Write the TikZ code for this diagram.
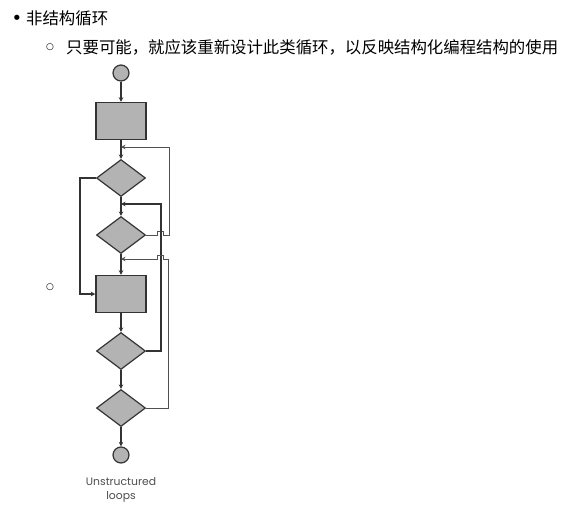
\documentclass[tikz,border=0pt]{standalone}
\usepackage{fontspec}
\usepackage{xcolor}
\usepackage{tikz}
\usetikzlibrary{shapes.geometric, arrows.meta}
\newfontfamily\cjk{Noto Sans CJK SC}
\newfontfamily\capfont{Poppins}
\newfontfamily\symfont{DejaVu Sans}
\definecolor{boxgray}{HTML}{B3B3B3}
\definecolor{linegray}{HTML}{333333}
\definecolor{loopgray}{HTML}{505050}
\definecolor{textgray}{HTML}{4D4D4D}

\tikzset{
    procbox/.style={draw=linegray, line width=1.5pt, fill=boxgray,
        minimum width=50pt, minimum height=37pt, inner sep=0pt},
    testbox/.style={diamond, draw=linegray, line width=1.2pt, fill=boxgray,
        minimum width=49pt, minimum height=37pt, inner sep=0pt},
    termbox/.style={circle, draw=linegray, line width=1.2pt, fill=boxgray,
        minimum size=16pt, inner sep=0pt},
    flow/.style={draw=linegray, line width=1.8pt},
    backflow/.style={draw=loopgray, line width=1pt},
    cjktext/.style={font=\cjk\fontsize{16.4pt}{20pt}\selectfont, anchor=west, inner sep=0pt}
}

\begin{document}
\begin{tikzpicture}[x=1pt, y=-1pt, >={Stealth[length=4.5pt, width=4.5pt]}]
    \useasboundingbox (0,0) rectangle (566,515);

    % Dòng chữ phía trên
    \node[font=\symfont\fontsize{18pt}{20pt}\selectfont, inner sep=0pt, anchor=base] (dot1) at (17,24.5) {•};
    \node[cjktext] (line1) at (26,18) {非结构循环};
    \node[font=\symfont\fontsize{9pt}{11pt}\selectfont, inner sep=0pt] (ring1) at (50,47) {○};
    \node[cjktext] (line2) at (66,47) {只要可能，就应该重新设计此类循环，以反映结构化编程结构的使用};
    \node[font=\symfont\fontsize{9pt}{11pt}\selectfont, inner sep=0pt] (ring2) at (50,287) {○};

    % Các khối của lưu đồ
    \node[termbox] (start) at (121,73) {};
    \node[procbox] (proc1) at (121,121) {};
    \node[testbox] (dec1) at (121,178) {};
    \node[testbox] (dec2) at (121,235) {};
    \node[procbox] (proc2) at (121,294) {};
    \node[testbox] (dec3) at (121,351) {};
    \node[testbox] (dec4) at (121,408) {};
    \node[termbox] (stop) at (121,455) {};

    % Điểm nhập của các vòng lặp
    \coordinate (joinA) at (121,147);
    \coordinate (joinB) at (121,204);
    \coordinate (joinC) at (121,259);

    % Đường chính
    \foreach \from/\to in {start/proc1, proc1/dec1, dec1/dec2, dec2/proc2, proc2/dec3, dec3/dec4, dec4/stop}
        \draw[flow, ->] (\from) -- (\to);

    % Nhánh bên trái
    \draw[flow, ->] (dec1.west) -- (80,178) |- (proc2.west);

    % Các vòng lặp bên phải
    \draw[backflow, ->] (dec2.east) -- (157,235) -- ++(0,-4) -- ++(6,0) -- ++(0,4)
        -- (169,235) -- (169,147) -- (joinA);
    \draw[flow, ->] (dec3.east) -- (161,351) |- (joinB);
    \draw[backflow, ->] (dec4.east) -- (168,408) -- (168,259) -- (163,259)
        -- ++(0,-4) -- ++(-6,0) -- ++(0,4) -- (joinC);

    % Chú thích
    \node[font=\capfont\fontsize{10.8pt}{14.5pt}\selectfont, text=textgray, align=center] (caption) at (121,490) {Unstructured\\loops};
\end{tikzpicture}
\end{document}
